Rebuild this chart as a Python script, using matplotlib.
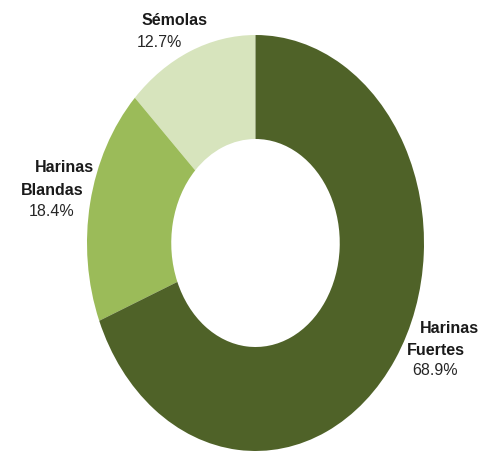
import matplotlib.pyplot as plt

# data
labels = ['Sémolas', 'Harinas\nBlandas', 'Harinas\nFuertes']
shares = [12.7, 18.4, 68.9]
colors = ['#D7E4BD', '#9BBB59', '#4F6228']

# canvas (pixels)
W, H = 481, 451

plt.rcParams['font.family'] = ['Liberation Sans', 'DejaVu Sans']

fig = plt.figure(figsize=(W / 100, H / 100), dpi=100)
fig.patch.set_facecolor('white')

# donut is slightly stretched vertically, so the axes box is not square
ax = fig.add_axes([87 / W, 0.0, 337 / W, 416 / H])
ax.pie(shares, colors=colors, startangle=90, counterclock=True,
       radius=1.0, wedgeprops=dict(width=0.5, edgecolor='none'))
ax.set_aspect('auto')
ax.set_xlim(-1, 1)
ax.set_ylim(-1, 1)
ax.axis('off')


def px(x, y):
    return x / W, 1 - y / H


# label positions (left x, baseline y) per line, in pixels
label_pos = [
    [(142, 25), (137, 47)],
    [(35, 172), (21, 195), (29, 216)],
    [(420, 333), (407, 355), (412, 375)],
]

for lab, val, pos in zip(labels, shares, label_pos):
    lines = lab.split('\n')
    for line, (x, y) in zip(lines, pos):
        fig.text(*px(x, y), line, fontsize=11.5, fontweight='bold',
                 color='#1a1a1a', ha='left', va='baseline')
    x, y = pos[-1]
    fig.text(*px(x, y), f'{val:.1f}%', fontsize=11.5,
             color='#262626', ha='left', va='baseline')

fig.savefig('out.png', dpi=100, facecolor='white')
